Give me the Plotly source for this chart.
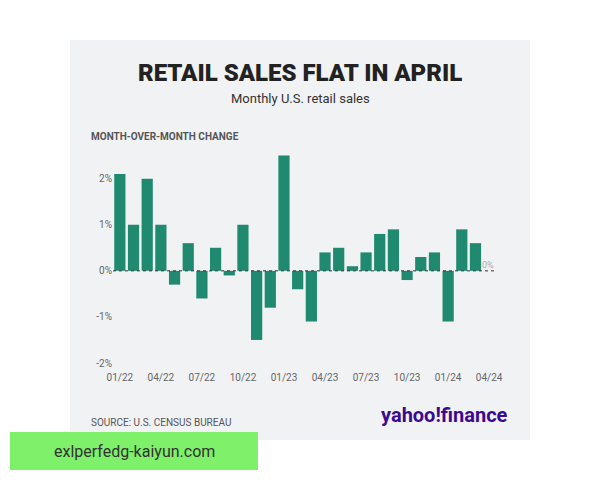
import plotly.graph_objects as go

months = ["01/22", "02/22", "03/22", "04/22", "05/22", "06/22", "07/22", "08/22", "09/22", "10/22",
          "11/22", "12/22", "01/23", "02/23", "03/23", "04/23", "05/23", "06/23", "07/23", "08/23",
          "09/23", "10/23", "11/23", "12/23", "01/24", "02/24", "03/24", "04/24"]
changes = [2.1, 1.0, 2.0, 1.0, -0.3, 0.6, -0.6, 0.5, -0.1, 1.0,
           -1.5, -0.8, 2.5, -0.4, -1.1, 0.4, 0.5, 0.1, 0.4, 0.8,
           0.9, -0.2, 0.3, 0.4, -1.1, 0.9, 0.6, 0.0]
tick_months = months[::3]
y_ticks = [-2, -1, 0, 1, 2]
y_labels = ["-2%", "-1%", "0%", "1%", "2%"]

# page renders ~8px offset, so layout is laid out in shifted pixels
OFF = 8
W, H = 600, 480
L, R, T, B = 113 - OFF, 104 + OFF, 151 - OFF, 117 + OFF
pw, ph = W - L - R, H - T - B


def px(x):
    return (x - OFF - L) / pw


def py(y):
    return (H - B - (y - OFF)) / ph


fig = go.Figure(go.Bar(x=list(range(len(months))), y=changes, marker_color="#1f8a70",
                       marker_line_width=0, width=0.82))

fig.add_shape(type="rect", xref="paper", yref="paper", x0=px(70), x1=px(530), y0=py(440), y1=py(40),
              fillcolor="#f1f2f4", line_width=0, layer="below")
fig.add_shape(type="line", xref="paper", yref="y", x0=0, x1=1, y0=0, y1=0,
              line=dict(color="#333", width=1, dash="dot"))

ann = [
    ("RETAIL SALES FLAT IN APRIL", 300, 73, 24, "#222", "center", "Roboto Black, Arial Black, sans-serif"),
    ("Monthly U.S. retail sales", 300, 98, 13, "#333", "center", "Roboto, sans-serif"),
    ("<b>MONTH-OVER-MONTH CHANGE</b>", 89, 137, 10, "#555", "left", "Roboto, sans-serif"),
    ("SOURCE: U.S. CENSUS BUREAU", 89, 422, 10, "#555", "left", "Roboto, sans-serif"),
    ("<b>yahoo!finance</b>", 510, 415, 20, "#3b0a8f", "right", "Roboto, sans-serif"),
    ("0%", 488, 265, 9, "#aaa", "center", "Roboto, sans-serif"),
]
for text, x, y, size, color, align, fam in ann:
    fig.add_annotation(text=text, xref="paper", yref="paper", x=px(x), y=py(y), showarrow=False,
                       xanchor=align, yanchor="middle", font=dict(size=size, color=color, family=fam))

fig.add_shape(type="rect", xref="paper", yref="paper", x0=px(10), x1=px(258), y0=py(470), y1=py(432),
              fillcolor="#7ef06a", line_width=0)
fig.add_annotation(text="exlperfedg-kaiyun.com", xref="paper", yref="paper", x=px(134), y=py(451),
                   xanchor="center", yanchor="middle", showarrow=False,
                   font=dict(size=16, color="#333", family="Roboto, sans-serif"))

fig.update_layout(
    width=W, height=H, margin=dict(l=L, r=R, t=T, b=B),
    paper_bgcolor="white", plot_bgcolor="rgba(0,0,0,0)", showlegend=False,
    xaxis=dict(range=[-0.5, 27.5], tickvals=list(range(0, 28, 3)), ticktext=tick_months,
               showgrid=False, zeroline=False, ticks="outside", ticklen=5, tickcolor="rgba(0,0,0,0)",
               tickfont=dict(size=10, color="#666", family="Roboto")),
    yaxis=dict(range=[-2, 2.6], tickvals=y_ticks, ticktext=y_labels, showgrid=False, zeroline=False,
               tickfont=dict(size=10, color="#666", family="Roboto")),
)
fig.write_html("out.html")
